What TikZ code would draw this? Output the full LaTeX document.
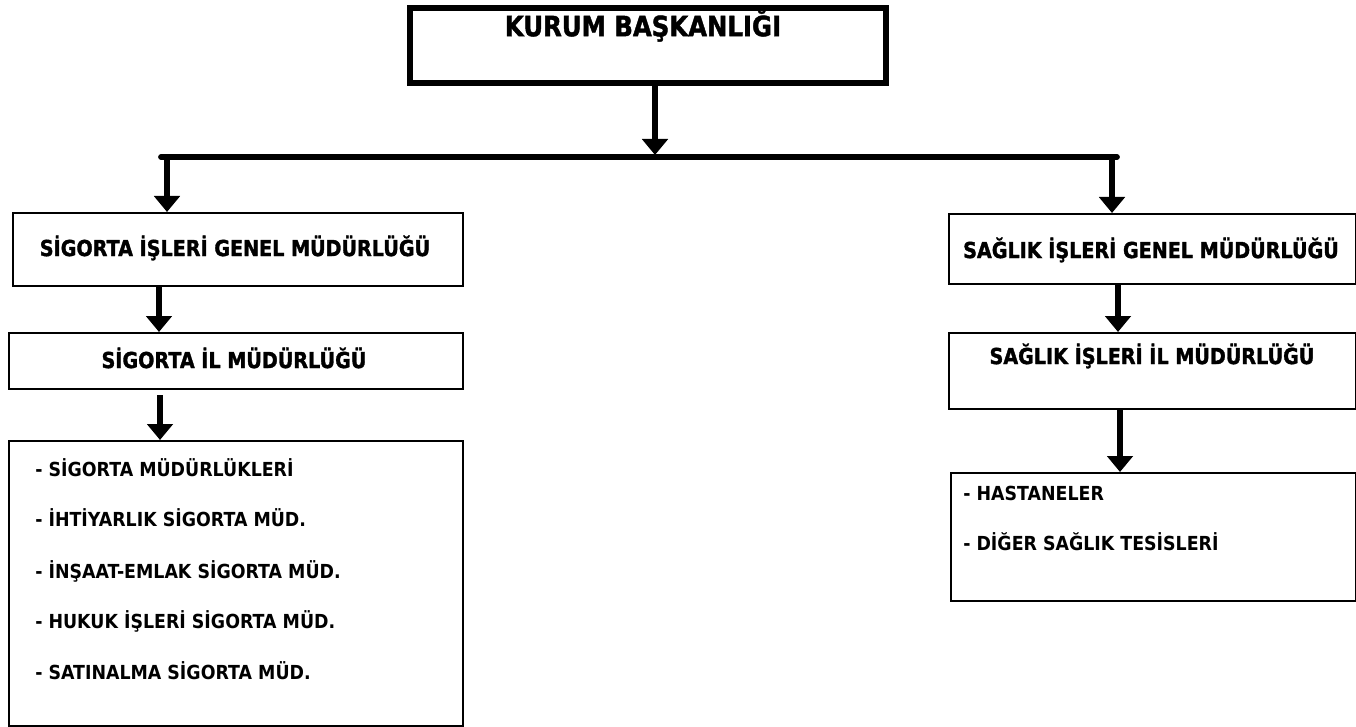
\documentclass[tikz,border=0pt]{standalone}
\usepackage{fontspec}
\setmainfont{DejaVu Sans}
\newfontfamily\hdrfont[FakeStretch=0.87,FakeBold=1.5]{DejaVu Sans Bold}
\newfontfamily\itemfont[FakeStretch=0.9]{DejaVu Sans Bold}
\usetikzlibrary{arrows.meta,positioning}
\begin{document}
\begin{tikzpicture}[x=0.75pt,y=-0.75pt,
  box/.style={draw,line width=1.6pt,inner sep=0pt,anchor=north west},
  topbox/.style={draw,line width=4.5pt,inner sep=0pt,anchor=north west},
  hdr/.style={inner sep=0pt,font=\hdrfont\fontsize{16.5pt}{19pt}\selectfont},
  tophdr/.style={inner sep=0pt,font=\hdrfont\fontsize{21pt}{24pt}\selectfont},
  item/.style={inner sep=0pt,anchor=west,font=\itemfont\fontsize{14.5pt}{17pt}\selectfont},
  arr/.style={line width=4.5pt,-{Triangle[width=19pt,length=12pt]}},
  bar/.style={line width=4.3pt,line cap=round}]
\useasboundingbox (0,0) rectangle (1356,727);
% boxes
\node[topbox,minimum width=476*0.75pt,minimum height=75*0.75pt] (top) at (407,5) {};
\node[box,minimum width=450*0.75pt,minimum height=73*0.75pt] (sgm) at (12,212) {};
\node[box,minimum width=454*0.75pt,minimum height=56*0.75pt] (sil) at (8,332) {};
\node[box,minimum width=454*0.75pt,minimum height=285*0.75pt] (slist) at (8,440) {};
\node[box,minimum width=407*0.75pt,minimum height=70*0.75pt] (hgm) at (948,213) {};
\node[box,minimum width=407*0.75pt,minimum height=76*0.75pt] (hil) at (948,332) {};
\node[box,minimum width=405*0.75pt,minimum height=128*0.75pt] (hlist) at (950,472) {};
% texts
\node[tophdr] (ttop) at (643,26) {KURUM BAŞKANLIĞI};
\node[hdr] (tsgm) at (235,248) {SİGORTA İŞLERİ GENEL MÜDÜRLÜĞÜ};
\node[hdr] (tsil) at (234,358) {SİGORTA İL MÜDÜRLÜĞÜ};
\node[hdr] (thgm) at (1151,250) {SAĞLIK İŞLERİ GENEL MÜDÜRLÜĞÜ};
\node[hdr] (thil) at (1152,356) {SAĞLIK İŞLERİ İL MÜDÜRLÜĞÜ};
\node[item] (s1) at (35,468) {- SİGORTA MÜDÜRLÜKLERİ};
\node[item] (s2) at (35,518) {- İHTİYARLIK SİGORTA MÜD.};
\node[item] (s3) at (35,571) {- İNŞAAT-EMLAK SİGORTA MÜD.};
\node[item] (s4) at (35,621) {- HUKUK İŞLERİ SİGORTA MÜD.};
\node[item] (s5) at (35,671) {- SATINALMA SİGORTA MÜD.};
\node[item] (h1) at (963,493) {- HASTANELER};
\node[item] (h2) at (963,542) {- DİĞER SAĞLIK TESİSLERİ};
% bar
\coordinate (bl) at (161,157);
\coordinate (br) at (1117,157);
\coordinate (bm) at (655,155);
\draw[bar] (bl) -- (br);
% connectors
\draw[arr] (top.south -| bm) -- (bm);
\draw[arr] (bl -| 167,0) -- (sgm.north -| 167,0);
\draw[arr] (br -| 1112,0) -- (hgm.north -| 1112,0);
\draw[arr] (sgm.south -| 159,0) -- (sil.north -| 159,0);
\draw[arr] ([yshift=-5*0.75pt]sil.south -| 160,0) -- (slist.north -| 160,0);
\draw[arr] (hgm.south -| 1118,0) -- (hil.north -| 1118,0);
\draw[arr] (hil.south -| 1120,0) -- (hlist.north -| 1120,0);
\end{tikzpicture}
\end{document}
